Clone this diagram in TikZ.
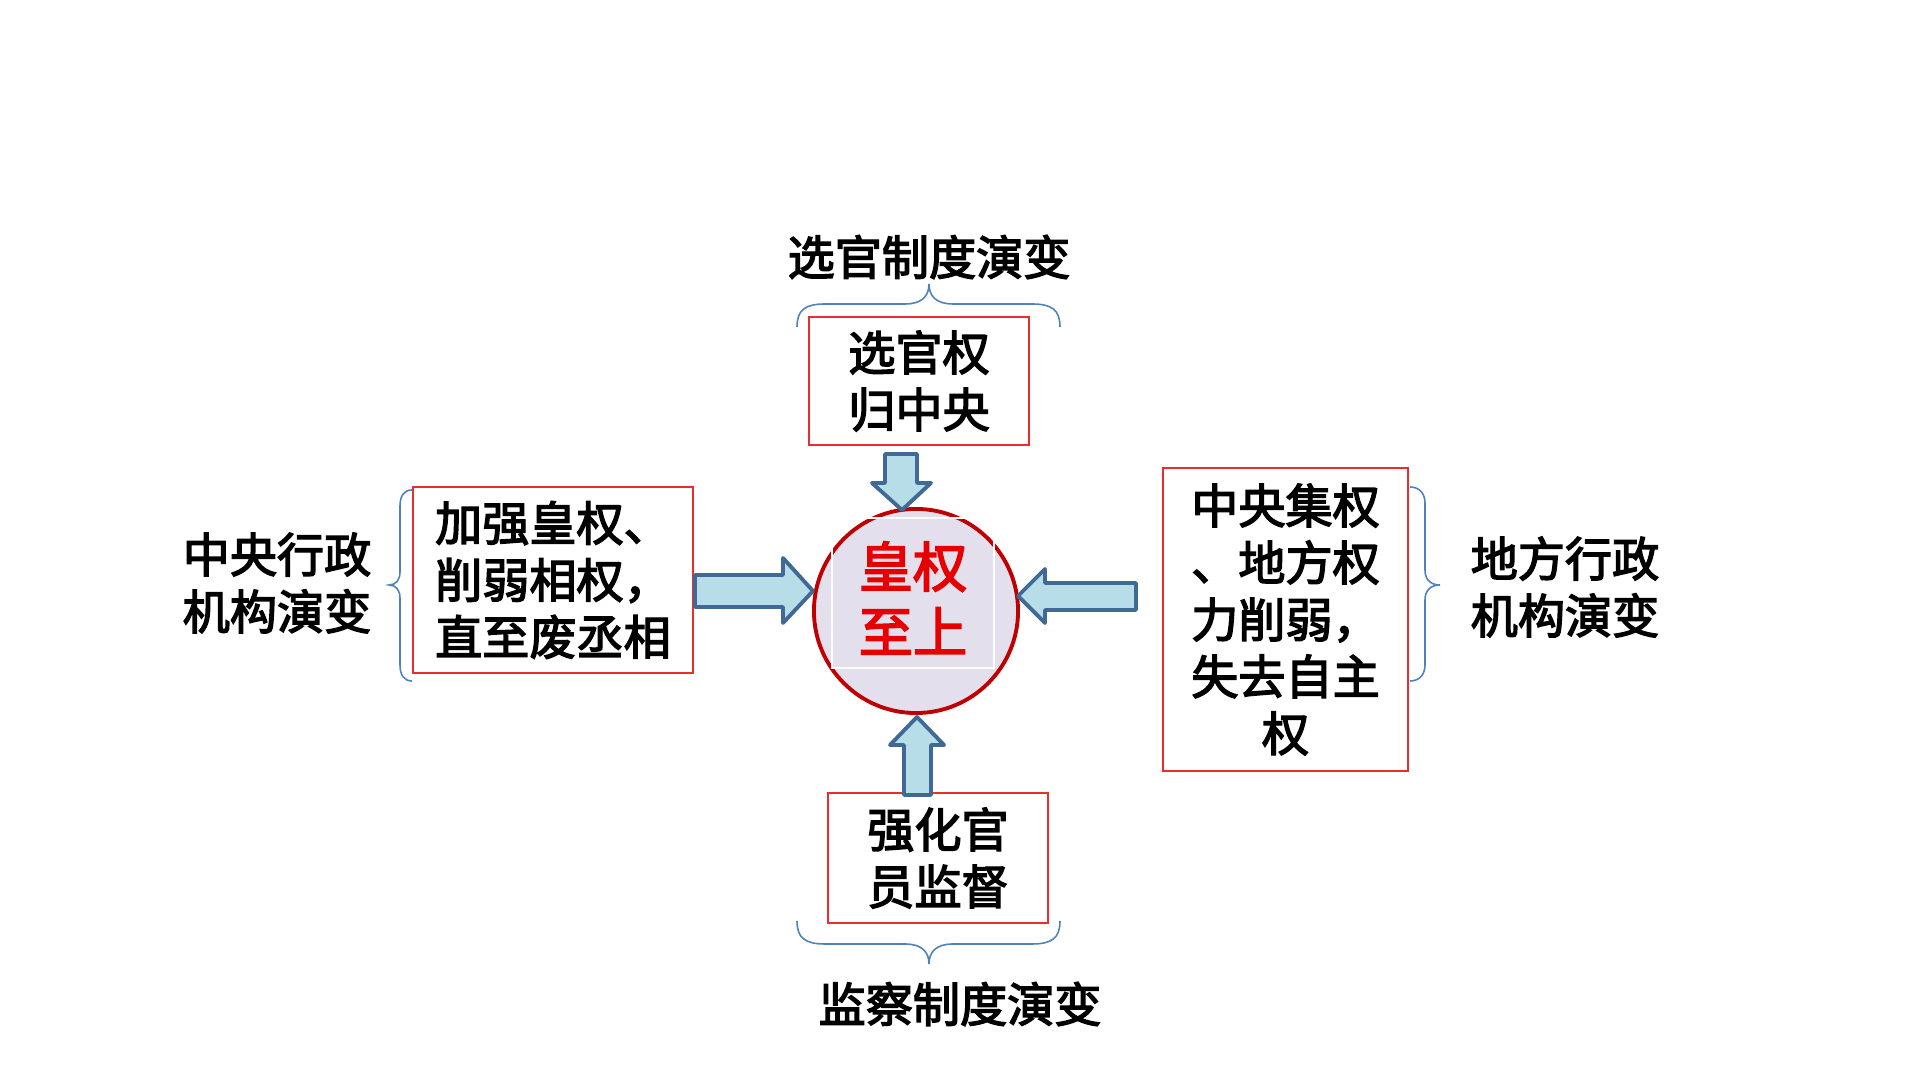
\documentclass[tikz,border=0pt]{standalone}
\usepackage{fontspec}
\newfontfamily\cjk[FakeBold=3]{Noto Sans CJK SC}
\definecolor{boxred}{RGB}{235,45,45}
\definecolor{ringred}{RGB}{192,0,0}
\definecolor{lav}{RGB}{228,223,236}
\definecolor{arrfill}{RGB}{183,222,232}
\definecolor{arrline}{RGB}{65,105,150}
\definecolor{bracec}{RGB}{79,129,189}
\definecolor{txtred}{RGB}{230,0,0}
\tikzset{
  txt/.style={font=\cjk\fontsize{13.4pt}{16.2pt}\selectfont, align=center, inner sep=0pt},
  redbox/.style={draw=boxred, line width=0.5pt, txt},
  blockarrow/.style={draw=arrline, fill=arrfill, line width=1.1pt, line join=round},
  bracel/.style={draw=bracec, line width=0.45pt},
}
\begin{document}
\begin{tikzpicture}[x=0.01cm,y=-0.01cm]
\useasboundingbox (0,0) rectangle (1920,1080);

% boxes
\node[redbox, minimum width=2.2cm, minimum height=1.28cm] (top) at (919,381) {选官权\\归中央};
\node[redbox, minimum width=2.8cm, minimum height=1.86cm] (left) at (553,580) {加强皇权、\\削弱相权，\\直至废丞相};
\node[redbox, minimum width=2.45cm, minimum height=3.03cm] (right) at (1285.5,619.5) {中央集权\\、地方权\\力削弱，\\失去自主\\权};
\node[redbox, minimum width=2.2cm, minimum height=1.3cm] (bottom) at (938,858) {强化官\\员监督};

% core
\node[circle, draw=ringred, fill=lav, line width=1.1pt, minimum size=2.04cm, inner sep=0pt] (core) at (916,611) {};
\draw[white, line width=0.3pt] (832,518) rectangle (994,668);
\node[txt, text=txtred, font=\cjk\fontsize{15.4pt}{18.5pt}\selectfont] (coretext) at (913,598) {皇权\\至上};

% labels
\node[txt] (toplab) at (929,257) {选官制度演变};
\node[txt] (leftlab) at (277,583) {中央行政\\机构演变};
\node[txt] (rightlab) at (1565,587) {地方行政\\机构演变};
\node[txt] (botlab) at (960,1004) {监察制度演变};

% block arrows
\draw[blockarrow] (885,454) -- (917,454) -- (917,483) -- (931,483) -- (902,510) -- (872,483) -- (885,483) -- cycle;
\draw[blockarrow] (695,575) -- (783,575) -- (783,558) -- (813,591) -- (783,623) -- (783,607) -- (695,607) -- cycle;
\draw[blockarrow] (1136,583) -- (1045,583) -- (1045,569) -- (1018,596) -- (1045,623) -- (1045,610) -- (1136,610) -- cycle;
\draw[blockarrow] (904,795) -- (904,745) -- (890,745) -- (917,717) -- (944,745) -- (931,745) -- (931,795) -- cycle;

% braces
\draw[bracel] (797,327) .. controls (797,310) and (805,304) .. (825,304) -- (905,304) .. controls (922,304) and (929,296) .. (929,284) .. controls (929,296) and (936,304) .. (953,304) -- (1032,304) .. controls (1052,304) and (1060,310) .. (1060,327);
\draw[bracel] (797,921) .. controls (797,938) and (805,944) .. (825,944) -- (905,944) .. controls (922,944) and (929,952) .. (929,964) .. controls (929,952) and (936,944) .. (953,944) -- (1032,944) .. controls (1052,944) and (1060,938) .. (1060,921);
\draw[bracel] (412,490) .. controls (404,490) and (400,496) .. (400,506) -- (400,572) .. controls (400,580) and (396,585) .. (389,585) .. controls (396,585) and (400,590) .. (400,598) -- (400,665) .. controls (400,675) and (404,681) .. (412,681);
\draw[bracel] (1410,487) .. controls (1419,487) and (1425,493) .. (1425,503) -- (1425,570) .. controls (1425,579) and (1430,585) .. (1440,585) .. controls (1430,585) and (1425,591) .. (1425,600) -- (1425,665) .. controls (1425,675) and (1419,681) .. (1410,681);
\end{tikzpicture}
\end{document}
